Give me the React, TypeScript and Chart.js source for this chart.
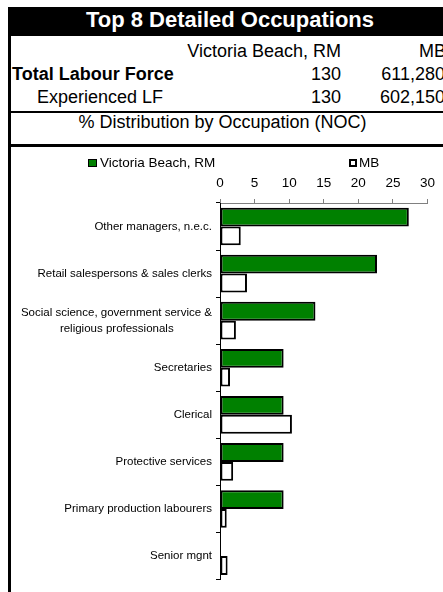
import React, { useEffect, useRef } from "react";
import { Chart, registerables } from "chart.js";

Chart.register(...registerables);

const categories: (string | string[])[] = [
  "Other managers, n.e.c.",
  "Retail salespersons & sales clerks",
  ["Social science, government service &", "religious professionals            "],
  "Secretaries",
  "Clerical",
  "Protective services",
  "Primary production labourers",
  "Senior mgnt",
];
const localValues = [27.3, 22.7, 13.8, 9.2, 9.2, 9.2, 9.2, 0];
const provinceValues = [3.0, 3.9, 2.3, 1.45, 10.4, 1.9, 0.97, 1.1];
const seriesNames = ["Victoria Beach, RM", "MB"];
const xTicks = { min: 0, max: 30, step: 5 };

const headerTitle = "Top 8 Detailed Occupations";
const colHeaders = ["Victoria Beach, RM", "MB"];
const rowLabels = ["Total Labour Force", "Experienced LF"];
const rowLocal = ["130", "130"];
const rowProvince = ["611,280", "602,150"];
const subTitle = "% Distribution by Occupation (NOC)";

const FONT = "'Liberation Sans', Arial, Helvetica, sans-serif";

function ChartCanvas() {
  const ref = useRef<HTMLCanvasElement | null>(null);
  useEffect(() => {
    if (!ref.current) return;
    const chart = new Chart(ref.current, {
      type: "bar",
      data: {
        labels: categories,
        datasets: [
          {
            label: seriesNames[0],
            data: localValues,
            backgroundColor: "#008000",
            borderColor: "#000000",
            borderWidth: 2,
            borderSkipped: false,
            categoryPercentage: 0.8,
            barPercentage: 1.0,
          },
          {
            label: seriesNames[1],
            data: provinceValues,
            backgroundColor: "#ffffff",
            borderColor: "#000000",
            borderWidth: 2,
            borderSkipped: false,
            categoryPercentage: 0.8,
            barPercentage: 1.0,
          },
        ],
      },
      options: {
        indexAxis: "y",
        responsive: false,
        animation: false,
        layout: { padding: { top: 20, right: 15, bottom: 10, left: 0 } },
        plugins: { legend: { display: false }, tooltip: { enabled: false } },
        scales: {
          x: {
            type: "linear",
            position: "top",
            min: xTicks.min,
            max: xTicks.max,
            ticks: {
              stepSize: xTicks.step,
              color: "#000",
              padding: 8,
              font: { family: FONT, size: 13.5 },
            },
            grid: { drawOnChartArea: false, tickLength: 4, color: "#808080" },
            border: { color: "#808080", width: 1 },
            afterFit: (scale: any) => {
              scale.height = 36;
            },
          },
          y: {
            type: "category",
            offset: true,
            ticks: {
              color: "#000",
              padding: 4,
              font: { family: FONT, size: 11.5, lineHeight: 1.45 },
            },
            grid: { drawOnChartArea: false, tickLength: 4, color: "#000", offset: true },
            border: { color: "#000", width: 1 },
            afterFit: (scale: any) => {
              scale.width = 209;
            },
          },
        },
      },
    } as any);
    return () => chart.destroy();
  }, []);
  return (
    <canvas
      ref={ref}
      width={432}
      height={445}
      style={{ position: "absolute", left: 11, top: 147, width: 432, height: 445 }}
    />
  );
}

const abs = (s: React.CSSProperties): React.CSSProperties => ({
  position: "absolute",
  whiteSpace: "nowrap",
  ...s,
});

export default function App() {
  return (
    <div
      style={{
        position: "fixed",
        left: 0,
        top: 0,
        width: 443,
        height: 592,
        overflow: "hidden",
        background: "#fff",
        fontFamily: FONT,
        color: "#000",
      }}
    >
      {/* title band */}
      <div style={abs({ left: 8, top: 7, width: 460, height: 29, background: "#000" })} />
      <div
        style={abs({
          left: 0,
          top: 9,
          width: 460,
          textAlign: "center",
          fontSize: 22,
          lineHeight: "22px",
          fontWeight: "bold",
          color: "#fff",
        })}
      >
        {headerTitle}
      </div>
      {/* left border */}
      <div style={abs({ left: 8, top: 7, width: 3, height: 600, background: "#000" })} />
      {/* column headers */}
      <div style={abs({ left: 0, top: 42, width: 341, textAlign: "right", fontSize: 18, lineHeight: "18px" })}>
        {colHeaders[0]}
      </div>
      <div style={abs({ left: 0, top: 42, width: 446, textAlign: "right", fontSize: 18, lineHeight: "18px" })}>
        {colHeaders[1]}
      </div>
      {/* rows */}
      <div style={abs({ left: 12, top: 65, fontSize: 18, lineHeight: "18px", fontWeight: "bold" })}>
        {rowLabels[0]}
      </div>
      <div style={abs({ left: 0, top: 65, width: 341, textAlign: "right", fontSize: 18, lineHeight: "18px" })}>
        {rowLocal[0]}
      </div>
      <div style={abs({ left: 0, top: 65, width: 445, textAlign: "right", fontSize: 18, lineHeight: "18px" })}>
        {rowProvince[0]}
      </div>
      <div style={abs({ left: 37, top: 88, fontSize: 18, lineHeight: "18px" })}>{rowLabels[1]}</div>
      <div style={abs({ left: 0, top: 88, width: 341, textAlign: "right", fontSize: 18, lineHeight: "18px" })}>
        {rowLocal[1]}
      </div>
      <div style={abs({ left: 0, top: 88, width: 445, textAlign: "right", fontSize: 18, lineHeight: "18px" })}>
        {rowProvince[1]}
      </div>
      {/* separators */}
      <div style={abs({ left: 8, top: 111, width: 460, height: 2, background: "#000" })} />
      <div style={abs({ left: 0, top: 113, width: 445, textAlign: "center", fontSize: 18, lineHeight: "18px" })}>
        {subTitle}
      </div>
      <div style={abs({ left: 8, top: 144, width: 460, height: 3, background: "#000" })} />
      {/* chart */}
      <ChartCanvas />
      {/* legend */}
      <div
        style={abs({
          left: 88,
          top: 159,
          width: 9,
          height: 8,
          background: "#008000",
          border: "1px solid #000",
          boxSizing: "border-box",
        })}
      />
      <div style={abs({ left: 100, top: 155, fontSize: 13.5, lineHeight: "16px" })}>{seriesNames[0]}</div>
      <div
        style={abs({
          left: 349,
          top: 159,
          width: 8,
          height: 8,
          background: "#fff",
          border: "2px solid #000",
          boxSizing: "border-box",
        })}
      />
      <div style={abs({ left: 359, top: 155, fontSize: 13.5, lineHeight: "16px" })}>{seriesNames[1]}</div>
    </div>
  );
}
